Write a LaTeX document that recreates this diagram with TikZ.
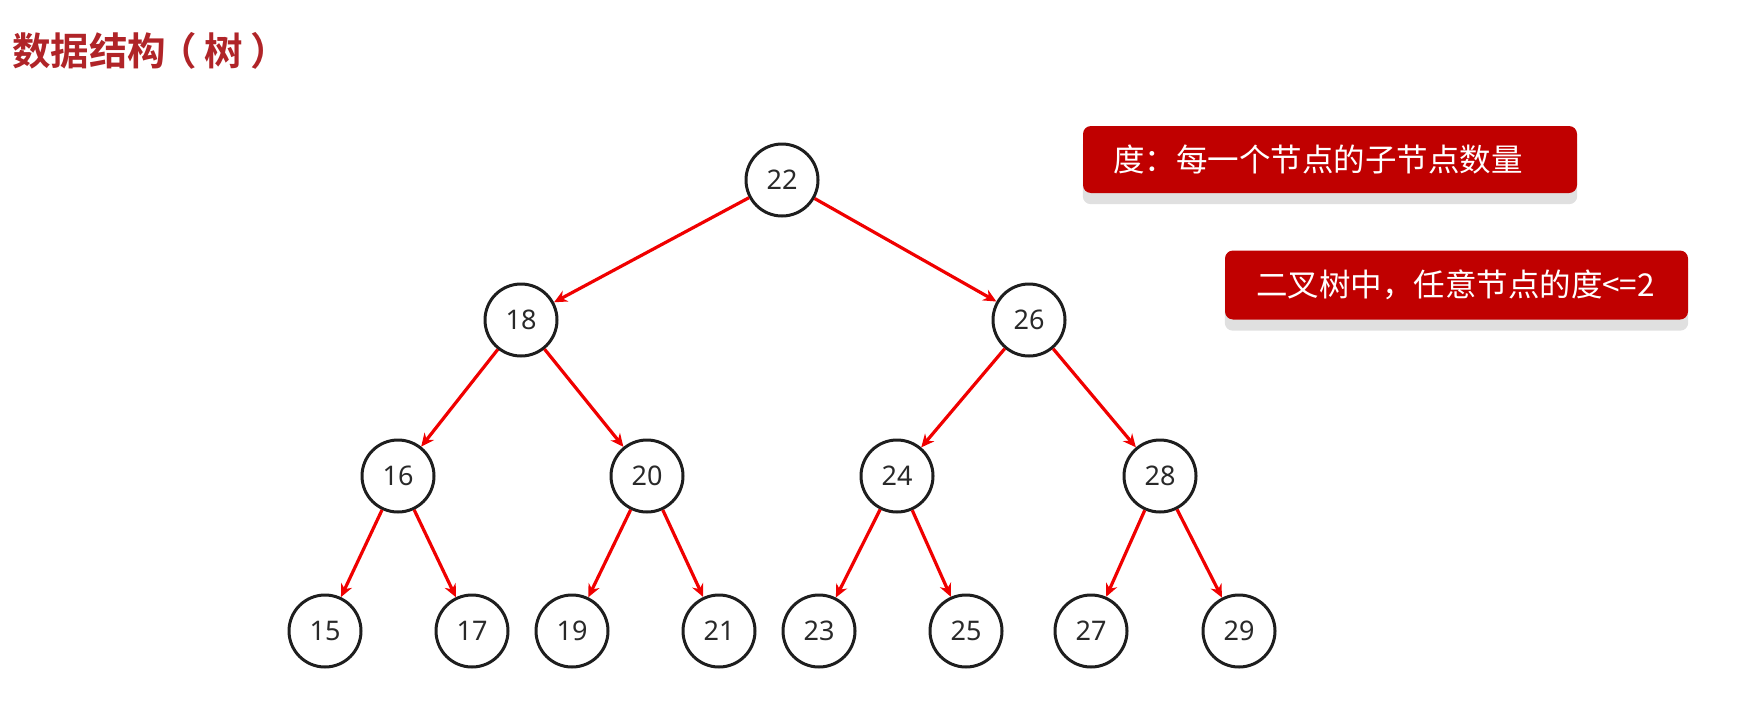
\documentclass[tikz,border=0pt]{standalone}
\usepackage{fontspec}
\setmainfont{Noto Sans}
\newfontfamily\cjk{Noto Sans CJK SC}
\newfontfamily\cjkbold{Noto Sans CJK SC Bold}
\usetikzlibrary{arrows.meta, backgrounds}
\definecolor{titlered}{RGB}{176, 36, 40}
\definecolor{boxred}{RGB}{192, 0, 0}
\definecolor{edgered}{RGB}{240, 0, 0}
\definecolor{shadowgray}{RGB}{224, 224, 224}
\definecolor{ringgray}{RGB}{30, 30, 30}

\tikzset{
  treenode/.style={circle, draw=ringgray, line width=3pt, minimum size=72pt,
    inner sep=0pt, text=ringgray!95, font=\fontsize{27}{27}\selectfont},
  treeedge/.style={edgered, line width=3.2pt, -{Stealth[length=13pt, width=12pt]}},
  notebox/.style={fill=boxred, rounded corners=8pt, text=white, align=left,
    font=\cjk\fontsize{31.5}{31.5}\selectfont, inner ysep=0pt}
}

\begin{document}
\begin{tikzpicture}[x=1pt, y=-1pt]
        \useasboundingbox (0,0) rectangle (1745,723);

        % title
        \node[anchor=west, text=titlered, inner sep=0pt,
              font=\cjkbold\fontsize{38.5}{38.5}\selectfont] (title) at (12,51)
          {数据结构\kern-0.2em（\kern0.2em树\kern0.2em）};

        % tree nodes
        \node[treenode] (n22) at (782,180) {22};
        \node[treenode] (n18) at (521,320) {18};
        \node[treenode] (n26) at (1029,320) {26};
        \foreach \v/\x in {16/398, 20/647, 24/897, 28/1160}{
          \node[treenode] (n\v) at (\x,476) {\v};
        }
        \foreach \v/\x in {15/325, 17/472, 19/572, 21/719, 23/819, 25/966, 27/1091, 29/1239}{
          \node[treenode] (n\v) at (\x,631) {\v};
        }

        % edges parent -> child
        \foreach \p/\c in {22/18, 22/26, 18/16, 18/20, 26/24, 26/28,
                           16/15, 16/17, 20/19, 20/21, 24/23, 24/25, 28/27, 28/29}{
          \draw[treeedge] (n\p) -- (n\c);
        }

        % notes
        \node[notebox, minimum height=67pt, text width=434pt, inner xsep=30pt] (degbox) at (1330,159.5)
          {度：每一个节点的子节点数量};
        \node[notebox, minimum height=69pt, text width=401pt, inner xsep=31pt] (binbox) at (1456.5,285)
          {二叉树中，任意节点的度<=2};
        \begin{scope}[on background layer]
          \fill[shadowgray, rounded corners=8pt] ([yshift=-11pt]degbox.north west) rectangle ([yshift=-11pt]degbox.south east);
          \fill[shadowgray, rounded corners=8pt] ([yshift=-11pt]binbox.north west) rectangle ([yshift=-11pt]binbox.south east);
        \end{scope}
      \end{tikzpicture}
\end{document}
